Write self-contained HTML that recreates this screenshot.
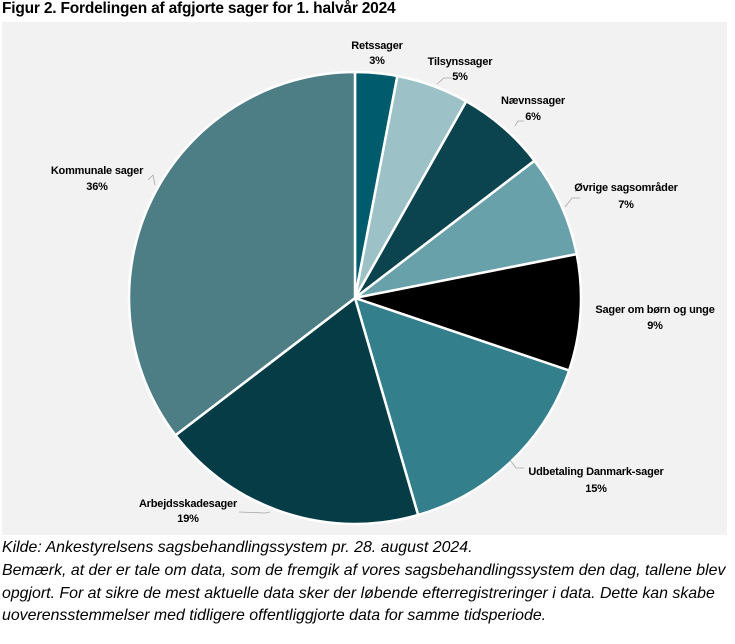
<!DOCTYPE html>
<html><head><meta charset="utf-8"><style>
html,body{margin:0;padding:0;background:#fff;}
body{width:735px;height:644px;position:relative;overflow:hidden;font-family:"Liberation Sans",sans-serif;}
.t{position:absolute;left:2px;top:0px;font-weight:bold;font-size:15.5px;letter-spacing:-0.2px;color:#000;}
.n{position:absolute;left:2px;font-style:italic;font-size:15.9px;letter-spacing:0;color:#000;white-space:nowrap;}
svg{position:absolute;left:0;top:0;}
</style></head><body>
<div class="t">Figur 2. Fordelingen af afgjorte sager for 1. halvår 2024</div>
<svg width="735" height="644">
<rect x="2" y="22" width="725" height="513" fill="#f2f2f2"/>
<g stroke="#fff" stroke-width="2.5" stroke-linejoin="round">
<path d="M355,298 L355,72 A226,226 0 0 1 397.4,76 Z" fill="#005b6c"/>
<path d="M355,298 L397.4,76 A226,226 0 0 1 466.3,101.3 Z" fill="#9cc1c7"/>
<path d="M355,298 L466.3,101.3 A226,226 0 0 1 534.5,160.7 Z" fill="#0b434f"/>
<path d="M355,298 L534.5,160.7 A226,226 0 0 1 576.7,254.1 Z" fill="#68a1a9"/>
<path d="M355,298 L576.7,254.1 A226,226 0 0 1 569.1,370.5 Z" fill="#000"/>
<path d="M355,298 L569.1,370.5 A226,226 0 0 1 418.1,515 Z" fill="#337f8b"/>
<path d="M355,298 L418.1,515 A226,226 0 0 1 175.5,435.3 Z" fill="#053c45"/>
<path d="M355,298 L175.5,435.3 A226,226 0 0 1 355,72 Z" fill="#4d7e86"/>
</g>
<g stroke="#a6a6a6" stroke-width="0.8" fill="none">
<path d="M437,84 L444,78 L452,78"/>
<path d="M515,126 L518,121 L524,121"/>
<path d="M565,207 L572,198 L580,198"/>
<path d="M510,460 L516,468 L524,468"/>
<path d="M239,512 L265,513 L270,512"/>
<path d="M148,180 L153,175 L155,185"/>
</g>
<g font-family="Liberation Sans, sans-serif" font-weight="bold" font-size="11" text-anchor="middle" fill="#000" letter-spacing="-0.2">
<text x="377" y="49">Retssager</text><text x="377" y="64">3%</text>
<text x="460" y="65">Tilsynssager</text><text x="460" y="80">5%</text>
<text x="533" y="104">Nævnssager</text><text x="533" y="120">6%</text>
<text x="626" y="191">Øvrige sagsområder</text><text x="626" y="208">7%</text>
<text x="655" y="313">Sager om børn og unge</text><text x="655" y="329">9%</text>
<text x="596" y="475">Udbetaling Danmark-sager</text><text x="596" y="492">15%</text>
<text x="188" y="507">Arbejdsskadesager</text><text x="188" y="522">19%</text>
<text x="97" y="174">Kommunale sager</text><text x="97" y="190">36%</text>
</g>
</svg>
<div class="n" style="top:539px">Kilde: Ankestyrelsens sagsbehandlingssystem pr. 28. august 2024.</div>
<div class="n" style="top:562px">Bemærk, at der er tale om data, som de fremgik af vores sagsbehandlingssystem den dag, tallene blev</div>
<div class="n" style="top:585px">opgjort. For at sikre de mest aktuelle data sker der løbende efterregistreringer i data. Dette kan skabe</div>
<div class="n" style="top:607px">uoverensstemmelser med tidligere offentliggjorte data for samme tidsperiode.</div>
</body></html>
